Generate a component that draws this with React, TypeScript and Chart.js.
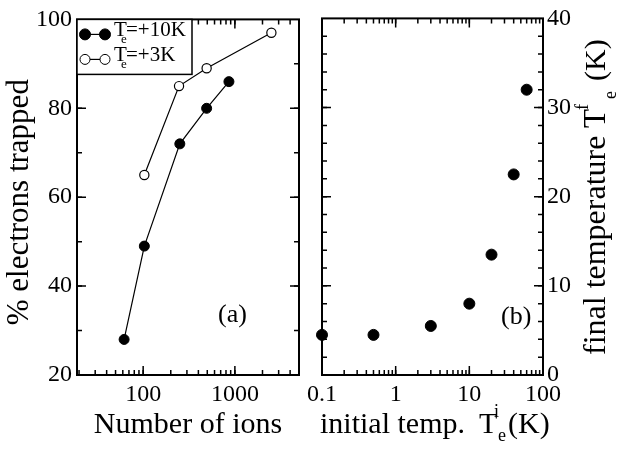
import React, { useEffect, useRef } from 'react';
import { Chart, registerables } from 'chart.js';
Chart.register(...registerables);

// ---- data ----
const IONS_10K = [62, 103, 251, 492, 861];
const TRAPPED_10K = [28, 49, 72, 80, 86];
const IONS_3K = [103, 246, 492, 2500];
const TRAPPED_3K = [65, 85, 89, 97];
const T_INITIAL = [0.1, 0.5, 3, 10, 20, 40, 60];
const T_FINAL = [4.5, 4.5, 5.5, 8, 13.5, 22.5, 32];

// ---- axis ticks ----
const XA_RANGE = [19, 5000];
const XB_RANGE = [0.1, 100];
const XA_LABELS = [100, 1000];
const XB_LABELS = [0.1, 1, 10, 100];
const YA_LABELS = [20, 40, 60, 80, 100];
const YA_MINOR_STEP = 10;
const YB_LABELS = [0, 10, 20, 30, 40];
const YB_MINOR_STEP = 2;

const LEGEND_LABELS = ['=+10K', '=+3K'];

const SERIF = '"Liberation Serif", "DejaVu Serif", serif';
const W = 619;
const H = 449;

function logMinor(min: number, max: number): number[] {
  const out: number[] = [];
  for (let e = Math.floor(Math.log10(min)) - 1; e <= Math.ceil(Math.log10(max)); e++) {
    for (let k = 1; k <= 9; k++) {
      const v = k * Math.pow(10, e);
      if (v >= min * 0.9999 && v <= max * 1.0001) out.push(v);
    }
  }
  return out;
}
function linMinor(min: number, max: number, step: number): number[] {
  const out: number[] = [];
  for (let v = min; v <= max + 1e-9; v += step) out.push(v);
  return out;
}

type Seg = { t: string; x: number; size: number; dy?: number };
function drawSegs(ctx: CanvasRenderingContext2D, segs: Seg[]) {
  for (const s of segs) {
    ctx.font = `${s.size}px ${SERIF}`;
    ctx.fillText(s.t, s.x, s.dy || 0);
  }
}

function drawFrame(chart: any, xMajor: number[], xMinor: number[], yMajor: number[], yMinor: number[]) {
  const ctx: CanvasRenderingContext2D = chart.ctx;
  const a = chart.chartArea;
  const xs = chart.scales.x;
  const ys = chart.scales.y;
  ctx.save();
  ctx.strokeStyle = '#000';
  ctx.lineWidth = 1.5;
  const tick = (vals: number[], len: number, horizontal: boolean) => {
    for (const v of vals) {
      if (horizontal) {
        const px = xs.getPixelForValue(v);
        if (px < a.left + 1 || px > a.right - 1) continue;
        ctx.beginPath();
        ctx.moveTo(px, a.bottom);
        ctx.lineTo(px, a.bottom - len);
        ctx.moveTo(px, a.top);
        ctx.lineTo(px, a.top + len);
        ctx.stroke();
      } else {
        const py = ys.getPixelForValue(v);
        if (py < a.top + 1 || py > a.bottom - 1) continue;
        ctx.beginPath();
        ctx.moveTo(a.left, py);
        ctx.lineTo(a.left + len, py);
        ctx.moveTo(a.right, py);
        ctx.lineTo(a.right - len, py);
        ctx.stroke();
      }
    }
  };
  tick(xMinor, 5, true);
  tick(xMajor, 9, true);
  tick(yMinor, 5, false);
  tick(yMajor, 9, false);
  ctx.lineWidth = 2;
  ctx.strokeRect(a.left, a.top, a.right - a.left, a.bottom - a.top);
  ctx.restore();
}

const tickFont = { family: SERIF, size: 24 };

export default function App() {
  const ref1 = useRef<HTMLCanvasElement>(null);
  const ref2 = useRef<HTMLCanvasElement>(null);

  useEffect(() => {
    document.body.style.margin = '0';
    const c1 = ref1.current!;
    const c2 = ref2.current!;

    const panelA = {
      id: 'panelA',
      beforeDatasetsDraw(chart: any) {
        drawFrame(
          chart,
          XA_LABELS,
          logMinor(XA_RANGE[0], XA_RANGE[1]),
          YA_LABELS,
          linMinor(YA_LABELS[0], YA_LABELS[YA_LABELS.length - 1], YA_MINOR_STEP)
        );
      },
      afterDraw(chart: any) {
        const ctx: CanvasRenderingContext2D = chart.ctx;
        const a = chart.chartArea;
        ctx.save();
        ctx.fillStyle = '#000';
        ctx.textBaseline = 'alphabetic';
        // x title
        ctx.font = `30px ${SERIF}`;
        ctx.textAlign = 'center';
        ctx.fillText('Number of ions', (a.left + a.right) / 2, 433);
        // y title
        ctx.save();
        ctx.translate(28, (a.top + a.bottom) / 2 + 5);
        ctx.rotate(-Math.PI / 2);
        ctx.font = `31px ${SERIF}`;
        ctx.fillText('% electrons trapped', 0, 0);
        ctx.restore();
        // panel label
        ctx.font = `26px ${SERIF}`;
        ctx.textAlign = 'left';
        ctx.fillText('(a)', 218, 322);
        // legend
        const lx = a.left;
        const ly = a.top;
        ctx.fillStyle = '#fff';
        ctx.fillRect(lx, ly, 115, 55);
        ctx.strokeStyle = '#000';
        ctx.lineWidth = 1.5;
        ctx.strokeRect(lx, ly, 115, 55);
        const rows = [
          { y: ly + 15, fill: '#000', r: 5.5 },
          { y: ly + 40, fill: '#fff', r: 5 },
        ];
        rows.forEach((row, i) => {
          ctx.strokeStyle = '#000';
          ctx.lineWidth = 1.2;
          ctx.beginPath();
          ctx.moveTo(lx + 8, row.y);
          ctx.lineTo(lx + 28, row.y);
          ctx.stroke();
          for (const cx of [lx + 8, lx + 28]) {
            ctx.beginPath();
            ctx.arc(cx, row.y, row.r, 0, Math.PI * 2);
            ctx.fillStyle = row.fill;
            ctx.fill();
            ctx.lineWidth = 1;
            ctx.stroke();
          }
          ctx.fillStyle = '#000';
          ctx.textAlign = 'left';
          ctx.save();
          ctx.translate(lx + 37, row.y + 1);
          drawSegs(ctx, [
            { t: 'T', x: 0, size: 21, dy: 1 },
            { t: 'e', x: 7, size: 13, dy: 8 },
            { t: LEGEND_LABELS[i], x: 12, size: 21, dy: 1 },
          ]);
          ctx.restore();
        });
        ctx.restore();
      },
    };

    const panelB = {
      id: 'panelB',
      beforeDatasetsDraw(chart: any) {
        drawFrame(
          chart,
          XB_LABELS,
          logMinor(XB_RANGE[0], XB_RANGE[1]),
          YB_LABELS,
          linMinor(YB_LABELS[0], YB_LABELS[YB_LABELS.length - 1], YB_MINOR_STEP)
        );
      },
      afterDraw(chart: any) {
        const ctx: CanvasRenderingContext2D = chart.ctx;
        ctx.save();
        ctx.fillStyle = '#000';
        ctx.textBaseline = 'alphabetic';
        ctx.textAlign = 'left';
        // x title
        ctx.save();
        ctx.translate(320, 433);
        drawSegs(ctx, [
          { t: 'initial temp.', x: 0, size: 30 },
          { t: 'T', x: 159, size: 30 },
          { t: 'i', x: 174, size: 18, dy: -16 },
          { t: 'e', x: 178, size: 18, dy: 8 },
          { t: '(K)', x: 188, size: 30 },
        ]);
        ctx.restore();
        // y title (right)
        ctx.save();
        ctx.translate(605, 355);
        ctx.rotate(-Math.PI / 2);
        drawSegs(ctx, [
          { t: 'final temperature', x: 0, size: 32 },
          { t: 'T', x: 227, size: 31 },
          { t: 'f', x: 245, size: 18, dy: -17 },
          { t: 'e', x: 256, size: 18, dy: 11 },
          { t: '(K)', x: 274, size: 30 },
        ]);
        ctx.restore();
        // panel label
        ctx.font = `26px ${SERIF}`;
        ctx.fillText('(b)', 501, 324);
        ctx.restore();
      },
    };

    const commonX = (labels: number[], range: number[]) => ({
      type: 'logarithmic' as const,
      min: range[0],
      max: range[1],
      grid: { display: false, drawTicks: false },
      border: { display: false },
      ticks: {
        font: tickFont,
        color: '#000',
        padding: 5,
        autoSkip: false,
        maxRotation: 0,
        callback: (v: any) => String(v),
      },
      afterBuildTicks: (s: any) => {
        s.ticks = labels.map((v) => ({ value: v }));
      },
      afterFit: (s: any) => {
        s.height = H - 375;
      },
    });

    const chartA = new Chart(c1, {
      type: 'line',
      data: {
        datasets: [
          {
            data: IONS_10K.map((x, i) => ({ x, y: TRAPPED_10K[i] })),
            borderColor: '#000',
            borderWidth: 1.2,
            pointRadius: 5,
            pointBackgroundColor: '#000',
            pointBorderColor: '#000',
            pointBorderWidth: 1,
            clip: false as any,
          },
          {
            data: IONS_3K.map((x, i) => ({ x, y: TRAPPED_3K[i] })),
            borderColor: '#000',
            borderWidth: 1.2,
            pointRadius: 4.6,
            pointBackgroundColor: '#fff',
            pointBorderColor: '#000',
            pointBorderWidth: 1.2,
            clip: false as any,
          },
        ],
      },
      options: {
        animation: false,
        responsive: false,
        devicePixelRatio: 1,
        layout: { padding: { left: 0, top: 17, right: W - 299, bottom: 0 } },
        plugins: { legend: { display: false }, tooltip: { enabled: false } },
        scales: {
          x: commonX(XA_LABELS, XA_RANGE) as any,
          y: {
            type: 'linear',
            min: YA_LABELS[0],
            max: YA_LABELS[YA_LABELS.length - 1],
            grid: { display: false, drawTicks: false },
            border: { display: false },
            ticks: { font: tickFont, color: '#000', padding: 5 },
            afterBuildTicks: (s: any) => {
              s.ticks = YA_LABELS.map((v) => ({ value: v }));
            },
            afterFit: (s: any) => {
              s.width = 77;
            },
          } as any,
        },
      },
      plugins: [panelA],
    });

    const chartB = new Chart(c2, {
      type: 'scatter',
      data: {
        datasets: [
          {
            data: T_INITIAL.map((x, i) => ({ x, y: T_FINAL[i] })),
            showLine: false,
            pointRadius: 5.5,
            pointBackgroundColor: '#000',
            pointBorderColor: '#000',
            pointBorderWidth: 1,
            clip: false as any,
          },
        ],
      },
      options: {
        animation: false,
        responsive: false,
        devicePixelRatio: 1,
        layout: { padding: { left: 322, top: 17, right: 0, bottom: 0 } },
        plugins: { legend: { display: false }, tooltip: { enabled: false } },
        scales: {
          x: commonX(XB_LABELS, XB_RANGE) as any,
          y: {
            type: 'linear',
            position: 'right',
            min: YB_LABELS[0],
            max: YB_LABELS[YB_LABELS.length - 1],
            grid: { display: false, drawTicks: false },
            border: { display: false },
            ticks: { font: tickFont, color: '#000', padding: 4 },
            afterBuildTicks: (s: any) => {
              s.ticks = YB_LABELS.map((v) => ({ value: v }));
            },
            afterFit: (s: any) => {
              s.width = W - 543;
            },
          } as any,
        },
      },
      plugins: [panelB],
    });

    return () => {
      chartA.destroy();
      chartB.destroy();
    };
  }, []);

  return (
    <div style={{ position: 'fixed', left: 0, top: 0, width: W, height: H, background: '#fff' }}>
      <canvas ref={ref1} width={W} height={H} style={{ position: 'absolute', left: 0, top: 0 }} />
      <canvas ref={ref2} width={W} height={H} style={{ position: 'absolute', left: 0, top: 0 }} />
    </div>
  );
}
